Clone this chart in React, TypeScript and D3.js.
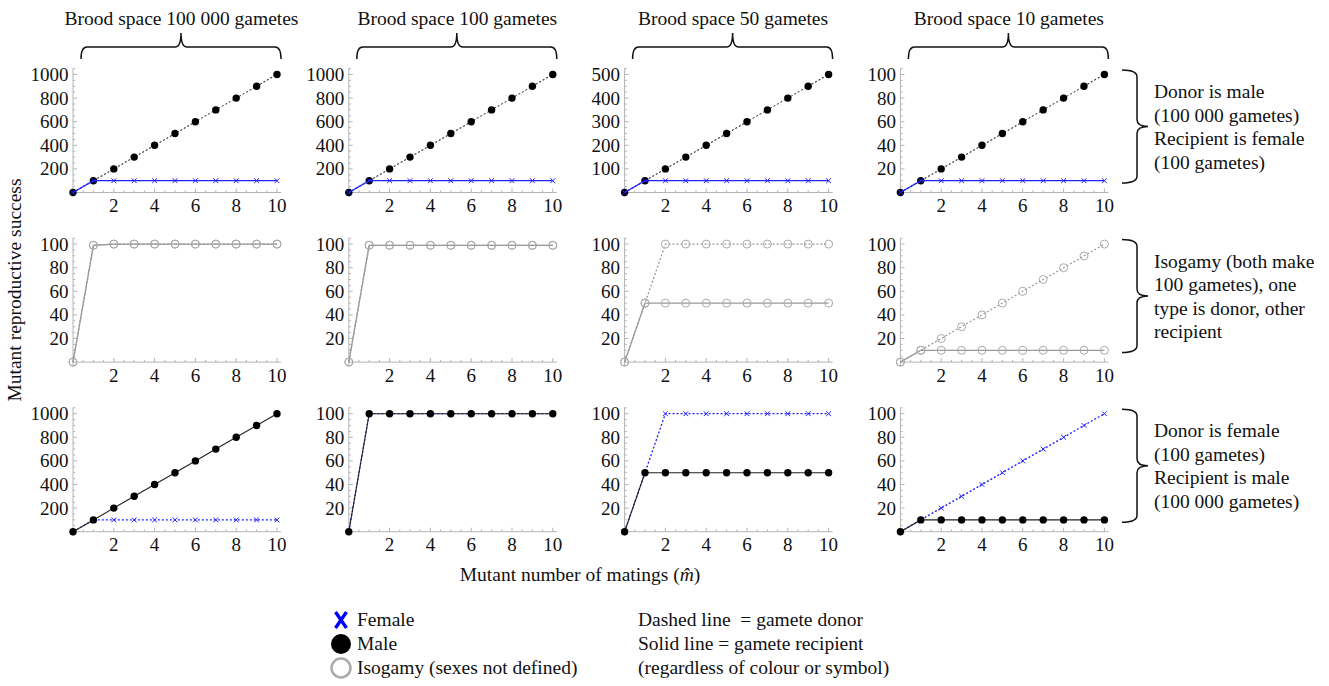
import React from 'react';
import * as d3 from 'd3';

// Mutant number of matings (x values shared by every panel)
const matings = [0, 1, 2, 3, 4, 5, 6, 7, 8, 9, 10];

// Row 1: donor is male (dotted), recipient is female (solid)
const r1Male100k = [0, 100, 200, 300, 400, 500, 600, 700, 800, 900, 1000];
const r1Female100k = [0, 100, 100, 100, 100, 100, 100, 100, 100, 100, 100];
const r1Male100 = [0, 100, 200, 300, 400, 500, 600, 700, 800, 900, 1000];
const r1Female100 = [0, 100, 100, 100, 100, 100, 100, 100, 100, 100, 100];
const r1Male50 = [0, 50, 100, 150, 200, 250, 300, 350, 400, 450, 500];
const r1Female50 = [0, 50, 50, 50, 50, 50, 50, 50, 50, 50, 50];
const r1Male10 = [0, 10, 20, 30, 40, 50, 60, 70, 80, 90, 100];
const r1Female10 = [0, 10, 10, 10, 10, 10, 10, 10, 10, 10, 10];

// Row 2: isogamy, donor (dotted) and recipient (solid)
const r2Donor100k = [0, 99, 100, 100, 100, 100, 100, 100, 100, 100, 100];
const r2Recip100k = [0, 99, 100, 100, 100, 100, 100, 100, 100, 100, 100];
const r2Donor100 = [0, 99, 99, 99, 99, 99, 99, 99, 99, 99, 99];
const r2Recip100 = [0, 99, 99, 99, 99, 99, 99, 99, 99, 99, 99];
const r2Donor50 = [0, 50, 100, 100, 100, 100, 100, 100, 100, 100, 100];
const r2Recip50 = [0, 50, 50, 50, 50, 50, 50, 50, 50, 50, 50];
const r2Donor10 = [0, 10, 20, 30, 40, 50, 60, 70, 80, 90, 100];
const r2Recip10 = [0, 10, 10, 10, 10, 10, 10, 10, 10, 10, 10];

// Row 3: donor is female (dotted), recipient is male (solid)
const r3Female100k = [0, 100, 100, 100, 100, 100, 100, 100, 100, 100, 100];
const r3Male100k = [0, 100, 200, 300, 400, 500, 600, 700, 800, 900, 1000];
const r3Female100 = [0, 100, 100, 100, 100, 100, 100, 100, 100, 100, 100];
const r3Male100 = [0, 100, 100, 100, 100, 100, 100, 100, 100, 100, 100];
const r3Female50 = [0, 50, 100, 100, 100, 100, 100, 100, 100, 100, 100];
const r3Male50 = [0, 50, 50, 50, 50, 50, 50, 50, 50, 50, 50];
const r3Female10 = [0, 10, 20, 30, 40, 50, 60, 70, 80, 90, 100];
const r3Male10 = [0, 10, 10, 10, 10, 10, 10, 10, 10, 10, 10];

const xTicks = [2, 4, 6, 8, 10];
const yTicks1000 = [200, 400, 600, 800, 1000];
const yTicks500 = [100, 200, 300, 400, 500];
const yTicks100 = [20, 40, 60, 80, 100];

const columnTitles = [
  'Brood space 100 000 gametes',
  'Brood space 100 gametes',
  'Brood space 50 gametes',
  'Brood space 10 gametes',
];

const rowNotes = [
  ['Donor is male', '(100 000 gametes)', 'Recipient is female', '(100 gametes)'],
  ['Isogamy (both make', '100 gametes), one', 'type is donor, other', 'recipient'],
  ['Donor is female', '(100 gametes)', 'Recipient is male', '(100 000 gametes)'],
];

const legendMarkers = ['Female', 'Male', 'Isogamy (sexes not defined)'];
const legendLines = ['Dashed line  = gamete donor', 'Solid line = gamete recipient', '(regardless of colour or symbol)'];

type Kind = 'male' | 'female' | 'iso';
interface Series { values: number[]; kind: Kind; dashed: boolean }
interface Panel { row: number; col: number; yTicks: number[]; series: Series[] }

const panels: Panel[] = [
  { row: 0, col: 0, yTicks: yTicks1000, series: [{ values: r1Male100k, kind: 'male', dashed: true }, { values: r1Female100k, kind: 'female', dashed: false }] },
  { row: 0, col: 1, yTicks: yTicks1000, series: [{ values: r1Male100, kind: 'male', dashed: true }, { values: r1Female100, kind: 'female', dashed: false }] },
  { row: 0, col: 2, yTicks: yTicks500, series: [{ values: r1Male50, kind: 'male', dashed: true }, { values: r1Female50, kind: 'female', dashed: false }] },
  { row: 0, col: 3, yTicks: yTicks100, series: [{ values: r1Male10, kind: 'male', dashed: true }, { values: r1Female10, kind: 'female', dashed: false }] },
  { row: 1, col: 0, yTicks: yTicks100, series: [{ values: r2Donor100k, kind: 'iso', dashed: true }, { values: r2Recip100k, kind: 'iso', dashed: false }] },
  { row: 1, col: 1, yTicks: yTicks100, series: [{ values: r2Donor100, kind: 'iso', dashed: true }, { values: r2Recip100, kind: 'iso', dashed: false }] },
  { row: 1, col: 2, yTicks: yTicks100, series: [{ values: r2Donor50, kind: 'iso', dashed: true }, { values: r2Recip50, kind: 'iso', dashed: false }] },
  { row: 1, col: 3, yTicks: yTicks100, series: [{ values: r2Donor10, kind: 'iso', dashed: true }, { values: r2Recip10, kind: 'iso', dashed: false }] },
  { row: 2, col: 0, yTicks: yTicks1000, series: [{ values: r3Female100k, kind: 'female', dashed: true }, { values: r3Male100k, kind: 'male', dashed: false }] },
  { row: 2, col: 1, yTicks: yTicks100, series: [{ values: r3Female100, kind: 'female', dashed: true }, { values: r3Male100, kind: 'male', dashed: false }] },
  { row: 2, col: 2, yTicks: yTicks100, series: [{ values: r3Female50, kind: 'female', dashed: true }, { values: r3Male50, kind: 'male', dashed: false }] },
  { row: 2, col: 3, yTicks: yTicks100, series: [{ values: r3Female10, kind: 'female', dashed: true }, { values: r3Male10, kind: 'male', dashed: false }] },
];

const W = 1329;
const H = 686;
const colX0 = (c: number) => 73 + c * 275.8;
const rowY0 = (r: number) => 192.5 + r * 169.6;
const plotW = 204;
const plotH = 118;

const FONT = 'Liberation Serif';
const AXIS = '#b4b4b4';
const BLUE = '#2020ff';

const lineStyle = (s: Series) => {
  if (s.kind === 'male') return { stroke: s.dashed ? '#333' : '#222', width: 1.1 };
  if (s.kind === 'female') return { stroke: BLUE, width: 1.3 };
  return { stroke: s.dashed ? '#9a9a9a' : '#999', width: 1.3 };
};

const Marker: React.FC<{ kind: Kind; cx: number; cy: number }> = ({ kind, cx, cy }) => {
  if (kind === 'male') return <circle cx={cx} cy={cy} r={3.7} fill="#000" />;
  if (kind === 'female') {
    const s = 2.4;
    return (
      <g stroke={BLUE} strokeWidth={1}>
        <line x1={cx - s} y1={cy - s} x2={cx + s} y2={cy + s} />
        <line x1={cx - s} y1={cy + s} x2={cx + s} y2={cy - s} />
      </g>
    );
  }
  return <circle cx={cx} cy={cy} r={4} fill="none" stroke="#aaa" strokeWidth={1} />;
};

const Txt: React.FC<React.SVGProps<SVGTextElement>> = props => (
  <text fontFamily={FONT} fontSize={19.5} fill="#111" {...props} />
);

const PanelView: React.FC<{ p: Panel }> = ({ p }) => {
  const x0 = colX0(p.col);
  const y0 = rowY0(p.row);
  const yMax = p.yTicks[p.yTicks.length - 1];
  const x = d3.scaleLinear().domain([0, 10]).range([x0, x0 + plotW]);
  const y = d3.scaleLinear().domain([0, yMax]).range([y0, y0 - plotH]);
  const step = p.yTicks[1] - p.yTicks[0];
  const yMinor = d3.range(0, yMax * 1.05 + 1e-9, step / 4).filter(v => v > 0);
  const xMinor = d3.range(0, 10.2, 0.5).filter(v => v > 0);
  const line = d3.line<number>().x((_, i) => x(matings[i])).y(d => y(d));

  return (
    <g>
      {/* axes */}
      <line x1={x(0)} y1={y0} x2={x(10.2)} y2={y0} stroke={AXIS} strokeWidth={1} />
      <line x1={x0} y1={y0 + 4} x2={x0} y2={y(yMax * 1.052)} stroke={AXIS} strokeWidth={1} />
      {xMinor.map(v => (
        <line key={'xm' + v} x1={x(v)} x2={x(v)} y1={y0} y2={y0 - (xTicks.includes(v) ? 4 : 2.2)} stroke={AXIS} strokeWidth={1} />
      ))}
      {yMinor.map(v => (
        <line key={'ym' + v} x1={x0} x2={x0 + (p.yTicks.includes(v) ? 4 : 2.2)} y1={y(v)} y2={y(v)} stroke={AXIS} strokeWidth={1} />
      ))}
      {xTicks.map(t => (
        <Txt key={'xt' + t} x={x(t)} y={y0 + 19.5} textAnchor="middle" fontSize={19}>{t}</Txt>
      ))}
      {p.yTicks.map(t => (
        <Txt key={'yt' + t} x={x0 - 4.5} y={y(t) + 6.5} textAnchor="end" fontSize={19}>{t}</Txt>
      ))}
      {/* series */}
      {p.series.map((s, si) => {
        const st = lineStyle(s);
        return (
          <g key={si}>
            <path d={line(s.values) || ''} fill="none" stroke={st.stroke} strokeWidth={st.width} strokeDasharray={s.dashed ? '2,2' : undefined} />
            {s.values.map((v, i) => (
              <Marker key={i} kind={s.kind} cx={x(matings[i])} cy={y(v)} />
            ))}
          </g>
        );
      })}
    </g>
  );
};

const topBrace = (xl: number, xr: number) => {
  const xm = (xl + xr) / 2;
  const yh = 47, yt = 33, yb = 59, r = 6;
  return `M${xl},${yb} Q${xl},${yh} ${xl + r},${yh} L${xm - r},${yh} Q${xm},${yh} ${xm},${yt} Q${xm},${yh} ${xm + r},${yh} L${xr - r},${yh} Q${xr},${yh} ${xr},${yb}`;
};

const sideBrace = (yTop: number, yBot: number) => {
  const xt = 1122, xv = 1137, xp = 1148, r = 7;
  const ym = (yTop + yBot) / 2;
  return `M${xt},${yTop} Q${xv},${yTop} ${xv},${yTop + r} L${xv},${ym - r} Q${xv},${ym} ${xp},${ym} Q${xv},${ym} ${xv},${ym + r} L${xv},${yBot - r} Q${xv},${yBot} ${xt},${yBot}`;
};

export default function App() {
  return (
    <div style={{ position: 'absolute', left: 0, top: 0, width: W, height: H, background: '#fff' }}>
      <svg width={W} height={H} style={{ display: 'block' }}>
        {columnTitles.map((t, c) => {
          const x0 = colX0(c);
          return (
            <g key={t}>
              <Txt x={x0 + 108.5} y={25} textAnchor="middle">{t}</Txt>
              <path d={topBrace(x0 + 8, x0 + 208)} fill="none" stroke="#111" strokeWidth={1.5} />
            </g>
          );
        })}

        {panels.map((p, i) => <PanelView key={i} p={p} />)}

        {rowNotes.map((lines, r) => {
          const y0 = rowY0(r);
          const yTop = y0 - 122.5;
          const yBot = y0 - 9.5;
          const mid = (yTop + yBot) / 2;
          return (
            <g key={r}>
              <path d={sideBrace(yTop, yBot)} fill="none" stroke="#111" strokeWidth={1.5} />
              {lines.map((l, k) => (
                <Txt key={k} x={1154} y={mid - 35 + k * 23.5 + 6.5}>{l}</Txt>
              ))}
            </g>
          );
        })}

        <Txt transform="translate(21,290) rotate(-90)" textAnchor="middle">
          Mutant reproductive success
        </Txt>
        <Txt x={580} y={581} textAnchor="middle">
          Mutant number of matings (<tspan fontStyle="italic">m̂</tspan>)
        </Txt>

        {/* legend */}
        <g>
          <path d="M335.5,612 L346.5,628 M346.5,612 L335.5,628" stroke="#0000ff" strokeWidth={3.4} fill="none" />
          <circle cx={341} cy={644} r={10} fill="#000" />
          <circle cx={341} cy={668} r={9.5} fill="none" stroke="#aaa" strokeWidth={2.5} />
          {legendMarkers.map((t, k) => (
            <Txt key={t} x={357} y={626 + k * 24}>{t}</Txt>
          ))}
          {legendLines.map((t, k) => (
            <Txt key={t} x={638} y={626 + k * 24} style={{ whiteSpace: 'pre' }}>{t}</Txt>
          ))}
        </g>
      </svg>
    </div>
  );
}
